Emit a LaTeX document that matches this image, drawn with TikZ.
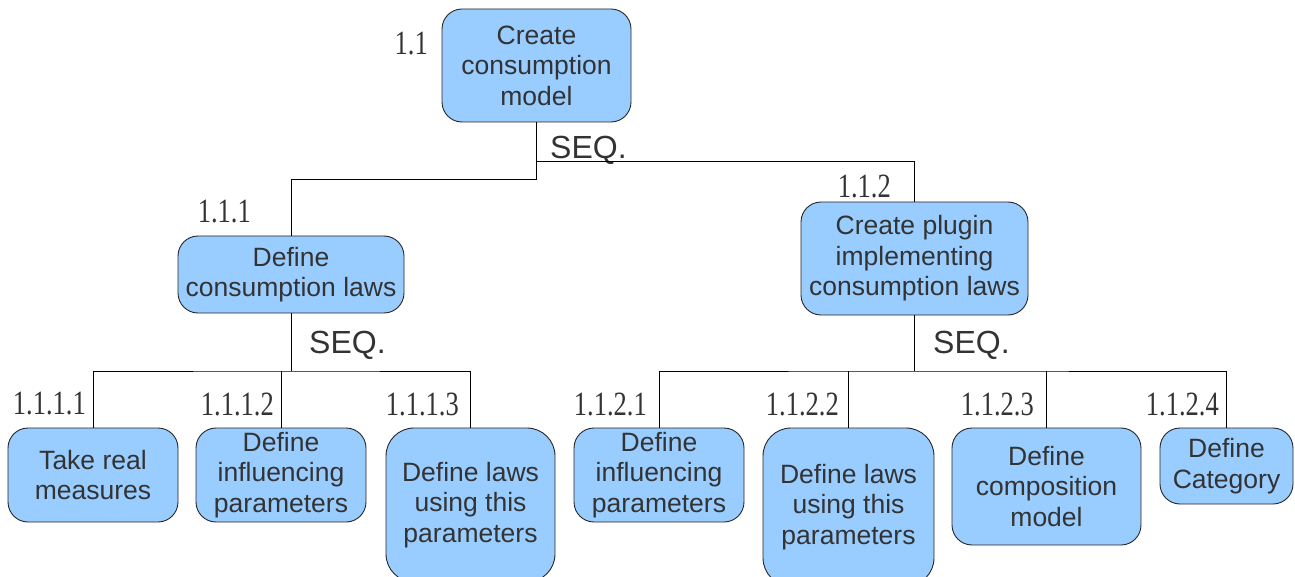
\documentclass[tikz,border=0pt]{standalone}
\usepackage{fontspec}
\setmainfont{Liberation Sans}
\newfontfamily\numfont[FakeStretch=0.78]{Liberation Serif}
\definecolor{boxfill}{HTML}{99CCFF}
\definecolor{txt}{HTML}{333333}
\tikzset{
  task/.style={draw=black!85, line width=0.9pt, fill=boxfill, rounded corners=20pt,
    align=center, inner sep=0pt, text=txt,
    font=\fontsize{26.5}{30.5}\selectfont},
  num/.style={inner sep=0pt, text=txt, font=\numfont\fontsize{34}{36}\selectfont},
  seq/.style={inner sep=0pt, text=txt, font=\fontsize{32}{34}\selectfont, anchor=west},
  link/.style={draw=black, line width=0.9pt},
}
\begin{document}
\begin{tikzpicture}[x=1pt,y=-1pt]
\useasboundingbox (0,0) rectangle (1295,577);
\clip (0,0) rectangle (1295,577);
% boxes
\node[task, minimum width=189pt, minimum height=113pt] (root) at (536.5,65.5) {Create\\consumption\\model};
\node[task, minimum width=226pt, minimum height=77pt] (a) at (291,274.5) {Define\\consumption laws};
\node[task, minimum width=227pt, minimum height=113pt] (b) at (914.5,258.5) {Create plugin\\implementing\\consumption laws};
\node[task, minimum width=170pt, minimum height=94pt] (c1) at (93,475) {Take real\\measures};
\node[task, minimum width=170pt, minimum height=94pt] (c2) at (281,475) {Define\\influencing\\parameters};
\node[task, minimum width=169pt, minimum height=154pt, rounded corners=28pt] (c3) at (470.5,505) {Define laws\\using this\\parameters};
\node[task, minimum width=170pt, minimum height=94pt] (d1) at (659,475) {Define\\influencing\\parameters};
\node[task, minimum width=171pt, minimum height=158pt, rounded corners=28pt] (d2) at (848.5,507) {Define laws\\using this\\parameters};
\node[task, minimum width=189pt, minimum height=117pt] (d3) at (1046.5,486.5) {Define\\composition\\model};
\node[task, minimum width=133pt, minimum height=76pt] (d4) at (1226.5,466) {Define\\Category};
% numbers
\node[num, anchor=east] (n0) at (428,44) {1.1};
\node[num, anchor=east] (na) at (251,212) {1.1.1};
\node[num, anchor=east] (nb) at (891,186) {1.1.2};
\node[num, anchor=east] (nc1) at (86,404) {1.1.1.1};
\node[num, anchor=east] (nc2) at (274,404) {1.1.1.2};
\node[num, anchor=east] (nc3) at (459,404) {1.1.1.3};
\node[num, anchor=east] (nd1) at (647,404) {1.1.2.1};
\node[num, anchor=east] (nd2) at (839,404) {1.1.2.2};
\node[num, anchor=east] (nd3) at (1034,404) {1.1.2.3};
\node[num, anchor=east] (nd4) at (1219,404) {1.1.2.4};
% SEQ labels
\node[seq] (s0) at (550,150) {SEQ.};
\node[seq] (s1) at (309,345) {SEQ.};
\node[seq] (s2) at (933,345) {SEQ.};
% connectors
\coordinate (j0) at (536.5,179);
\coordinate (j0r) at (536.5,161);
\coordinate (ja) at (291,371);
\coordinate (jb) at (914.5,371);
\draw[link] (root.south) -- (j0) -| (a.north);
\draw[link] (j0r) -| (b.north);
\draw[link] (a.south) -- (ja);
\draw[link] (c1.north) |- (ja) -| (c3.north);
\draw[link] (c2.north) -- (c2.north |- ja);
\draw[link] (b.south) -- (jb);
\draw[link] (d1.north) |- (jb) -| (d4.north);
\draw[link] (d2.north) -- (d2.north |- jb);
\draw[link] (d3.north) -- (d3.north |- jb);
\end{tikzpicture}
\end{document}
